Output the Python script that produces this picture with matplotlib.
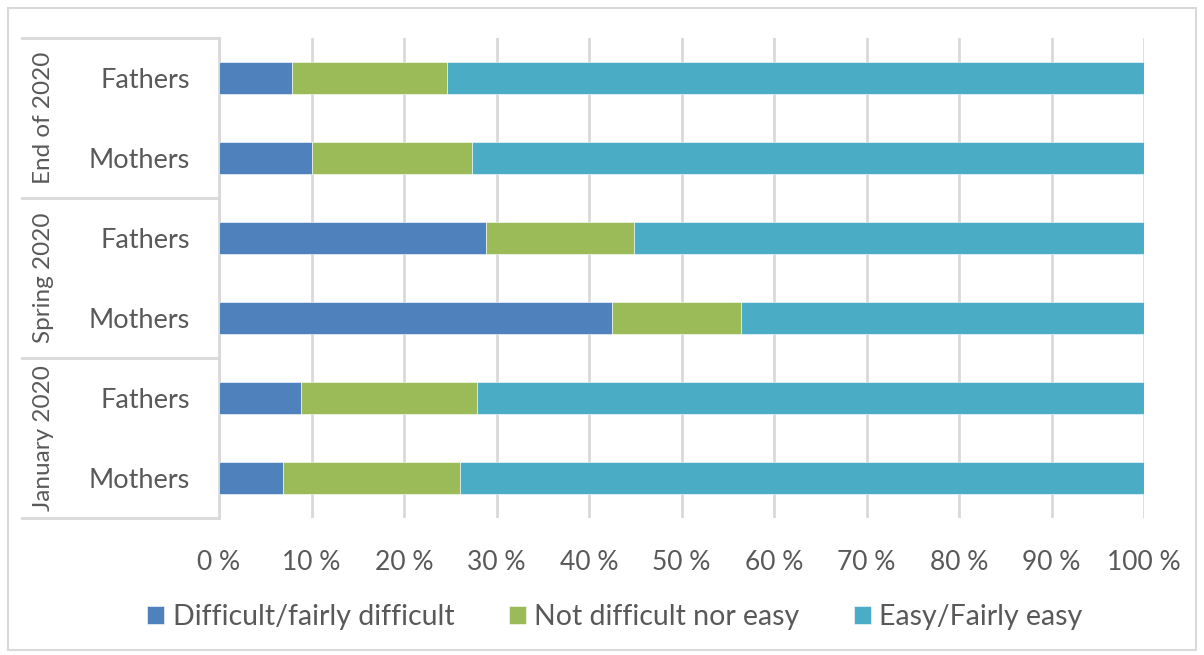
import matplotlib
matplotlib.use("Agg")
import matplotlib.pyplot as plt
from matplotlib.lines import Line2D
from matplotlib.patches import Rectangle
import matplotlib.transforms as mtransforms
import numpy as np

# rows listed bottom to top
PERIODS = ["January 2020", "Spring 2020", "End of 2020"]
PARENTS = ["Mothers", "Fathers", "Mothers", "Fathers", "Mothers", "Fathers"]
DIFFICULT = [6.9, 8.9, 42.5, 28.9, 10.0, 7.9]
NEITHER = [19.1, 19.0, 13.9, 16.0, 17.3, 16.8]
EASY = [100 - d - n for d, n in zip(DIFFICULT, NEITHER)]
SERIES = ["Difficult/fairly difficult", "Not difficult nor easy", "Easy/Fairly easy"]
COLORS = ["#4F81BD", "#9BBB59", "#4BACC6"]
XTICKS = list(range(0, 101, 10))

plt.rcParams["font.family"] = ["Lato", "DejaVu Sans"]
TEXT = "#595959"
GRID = "#D9D9D9"

W, H = 1204, 655
fig = plt.figure(figsize=(W / 100, H / 100), dpi=100)
ax = fig.add_axes([219 / W, 1 - 518 / H, (1144 - 219) / W, (518 - 38) / H])

y = np.arange(len(PARENTS))
left = np.zeros(len(PARENTS))
for vals, name, col in zip([DIFFICULT, NEITHER, EASY], SERIES, COLORS):
    ax.barh(y, vals, left=left, height=0.4, color=col, label=name,
            edgecolor="white", linewidth=0.4, zorder=3)
    left += np.array(vals)

ax.set_xlim(0, 100)
ax.set_ylim(-0.5, len(PARENTS) - 0.5)
ax.set_xticks(XTICKS)
ax.set_xticklabels([f"{t} %" for t in XTICKS])
ax.xaxis.grid(True, color=GRID, linewidth=2, zorder=0)
ax.set_axisbelow(True)
for s in ["top", "right", "bottom"]:
    ax.spines[s].set_visible(False)
ax.spines["left"].set_color(GRID)
ax.spines["left"].set_linewidth(2)
ax.tick_params(axis="x", length=0, pad=23, labelsize=19, labelcolor=TEXT)
ax.set_yticks(y)
ax.set_yticklabels(PARENTS)
ax.tick_params(axis="y", length=0, pad=21, labelsize=19.5, labelcolor=TEXT)

# two-level category axis: group boxes and rotated period labels
trans = mtransforms.blended_transform_factory(fig.transFigure, ax.transData)
for b in [-0.5, 1.5, 3.5, 5.5]:
    fig.add_artist(Line2D([22 / W, 219 / W], [b, b], transform=trans,
                          color=GRID, linewidth=2))
for i, p in enumerate(PERIODS):
    fig.text(44 / W, 2 * i + 0.5, p, transform=trans, rotation=90,
             ha="center", va="center", fontsize=17.5, color=TEXT)

# outer chart border
fig.add_artist(Rectangle((8 / W, 5 / H), (1196 - 8) / W, (647 - 5) / H,
                         transform=fig.transFigure, fill=False,
                         edgecolor=GRID, linewidth=1.5))

fig.legend(loc="center", bbox_to_anchor=(615 / W, 1 - 617 / H), ncol=3,
           frameon=False, fontsize=20.5, labelcolor=TEXT, handlelength=0.6,
           handleheight=0.6, handletextpad=0.3, columnspacing=1.9)

fig.savefig("out.png", dpi=100)
